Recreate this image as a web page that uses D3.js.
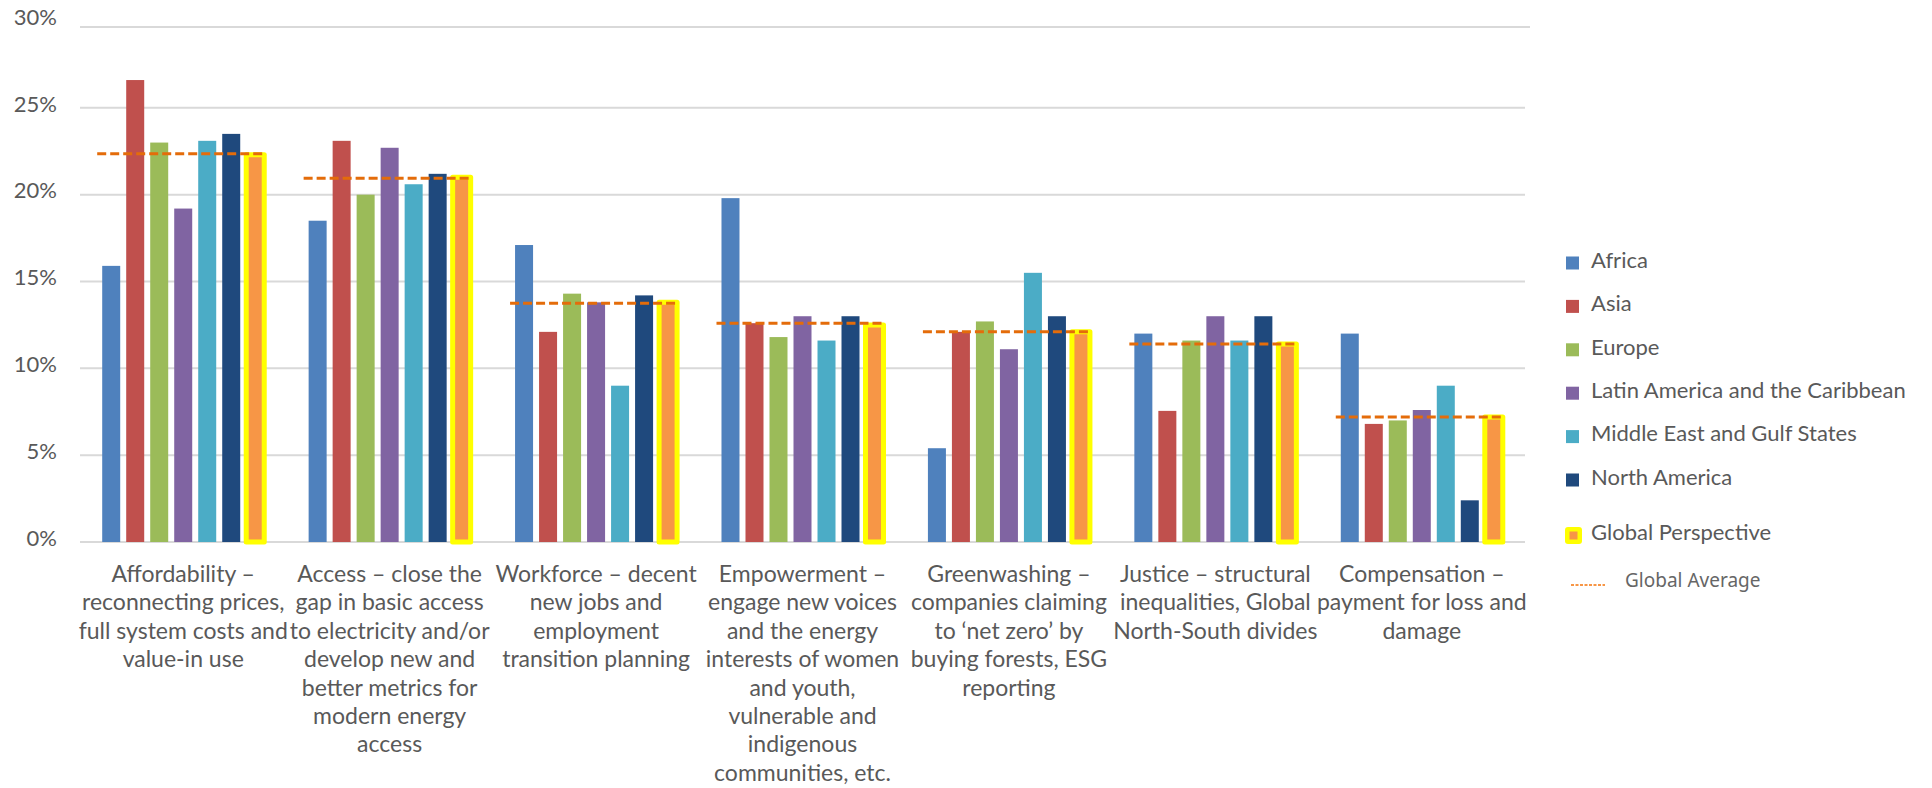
<!DOCTYPE html>
<html>
<head>
<meta charset="utf-8">
<script src="https://cdn.jsdelivr.net/npm/d3@7"></script>
<style>
  html, body { margin: 0; padding: 0; background: #ffffff; }
  svg { display: block; }
</style>
</head>
<body>
<svg id="chart" width="1932" height="788"></svg>
<script>
// ---------- DATA ----------
const categories = ["Affordability", "Access", "Workforce", "Empowerment", "Greenwashing", "Justice", "Compensation"];
const categoryLabels = [
  ["Affordability –", "reconnecting prices,", "full system costs and", "value-in use"],
  ["Access – close the", "gap in basic access", "to electricity and/or", "develop new and", "better metrics for", "modern energy", "access"],
  ["Workforce – decent", "new jobs and", "employment", "transition planning"],
  ["Empowerment –", "engage new voices", "and the energy", "interests of women", "and youth,", "vulnerable and", "indigenous", "communities, etc."],
  ["Greenwashing –", "companies claiming", "to ‘net zero’ by", "buying forests, ESG", "reporting"],
  ["Justice – structural", "inequalities, Global", "North-South divides"],
  ["Compensation –", "payment for loss and", "damage"]
];
const seriesNames = ["Africa", "Asia", "Europe", "Latin America and the Caribbean", "Middle  East and Gulf States", "North America", "Global Perspective"];
const africa      = [15.9, 18.5, 17.1, 19.8, 5.4, 12.0, 12.0];
const asia        = [26.6, 23.1, 12.1, 12.6, 12.1, 7.55, 6.8];
const europe      = [23.0, 20.0, 14.3, 11.8, 12.7, 11.6, 7.0];
const latinAm     = [19.2, 22.7, 13.8, 13.0, 11.1, 13.0, 7.6];
const middleEast  = [23.1, 20.6, 9.0, 11.6, 15.5, 11.6, 9.0];
const northAm     = [23.5, 21.2, 14.2, 13.0, 13.0, 13.0, 2.4];
const globalPersp = [22.3, 21.0, 13.8, 12.5, 12.1, 11.4, 7.2];
const globalAvg   = [22.35, 20.95, 13.75, 12.6, 12.1, 11.4, 7.2];
const yTicks = [0, 5, 10, 15, 20, 25, 30];
const avgLabel = "Global Average";

// ---------- STYLE ----------
const colors = ["#4F81BD", "#C0504D", "#9BBB59", "#8064A2", "#4BACC6", "#1F497D", "#F79646"];
const seriesValues = [africa, asia, europe, latinAm, middleEast, northAm, globalPersp];
const textColor = "#595959";
const font = "Lato, 'Open Sans', sans-serif";

const svg = d3.select("#chart");
const plotLeft = 80, plotRight = 1525, plotBottom = 542, plotTop = 21;

const x0 = d3.scaleBand().domain(categories).range([plotLeft, plotRight]).paddingInner(0).paddingOuter(0);
const x1 = d3.scaleBand().domain(seriesNames).range([0, x0.bandwidth()]).paddingInner(0.25).paddingOuter(0.925);
const y = d3.scaleLinear().domain([0, 30]).range([plotBottom, plotTop]);

// gridlines
svg.append("g").selectAll("line").data(yTicks).join("line")
  .attr("x1", plotLeft)
  .attr("x2", d => d === 30 ? plotRight + 5 : plotRight)
  .attr("y1", d => d === 30 ? y(d) + 6 : y(d))
  .attr("y2", d => d === 30 ? y(d) + 6 : y(d))
  .attr("stroke", "#D9D9D9").attr("stroke-width", 2);

// y axis labels
const yAxis = d3.axisLeft(y).tickValues(yTicks).tickFormat(d => d + "%").tickSize(0).tickPadding(0);
const yg = svg.append("g").attr("transform", "translate(57,0)").call(yAxis);
yg.select(".domain").remove();
yg.selectAll("text")
  .attr("dy", "0.15em")
  .style("font-family", font).style("font-size", "22px").attr("fill", textColor);

// bars
const rows = categories.map((c, ci) => ({ cat: c, vals: seriesNames.map((s, si) => ({ s, si, v: seriesValues[si][ci] })) }));
const groups = svg.append("g").selectAll("g").data(rows).join("g")
  .attr("transform", d => `translate(${x0(d.cat)},0)`);

groups.selectAll("rect").data(d => d.vals).join("rect")
  .attr("x", d => x1(d.s))
  .attr("width", x1.bandwidth())
  .attr("y", d => y(d.v))
  .attr("height", d => y(0) - y(d.v))
  .attr("fill", d => colors[d.si])
  .attr("stroke", d => d.si === 6 ? "#FFFF00" : "none")
  .attr("stroke-width", d => d.si === 6 ? 5 : 0)
  .attr("stroke-linejoin", "round");

// global average dashed lines
svg.append("g").selectAll("line").data(categories).join("line")
  .attr("x1", (c) => x0(c) + x1(seriesNames[0]) - 5)
  .attr("x2", (c) => x0(c) + x1(seriesNames[6]) + x1.bandwidth() + 2)
  .attr("y1", (c, i) => y(globalAvg[i]))
  .attr("y2", (c, i) => y(globalAvg[i]))
  .attr("stroke", "#E46C0A").attr("stroke-width", 3)
  .attr("stroke-dasharray", "9,4");

// category labels
const lab = svg.append("g").selectAll("text").data(categories).join("text")
  .attr("x", c => x0(c) + x0.bandwidth() / 2)
  .attr("y", 574)
  .attr("text-anchor", "middle")
  .style("font-family", font).style("font-size", "23px").attr("fill", textColor);
lab.selectAll("tspan").data((c, i) => categoryLabels[i]).join("tspan")
  .attr("x", function () { return d3.select(this.parentNode).attr("x"); })
  .attr("dy", (d, i) => i === 0 ? "0.35em" : "28.4px")
  .text(d => d);

// legend
const legY = i => i < 6 ? 260 + i * 43.4 : 532;
const leg = svg.append("g").selectAll("g").data(seriesNames).join("g")
  .attr("transform", (d, i) => `translate(1566,${legY(i)})`);
leg.filter((d, i) => i < 6).append("rect")
  .attr("x", 0).attr("y", -3.5).attr("width", 13).attr("height", 13)
  .attr("fill", (d, i) => colors[i]);
leg.filter((d, i) => i === 6).append("rect")
  .attr("x", -1).attr("y", -5).attr("width", 17).attr("height", 17).attr("rx", 3)
  .attr("fill", "#FFFF00");
leg.filter((d, i) => i === 6).append("rect")
  .attr("x", 3.5).attr("y", -0.5).attr("width", 8).attr("height", 8)
  .attr("fill", colors[6]);
leg.append("text")
  .attr("x", 25).attr("y", 0).attr("dy", "0.35em")
  .style("font-family", font).style("font-size", "22px").attr("fill", textColor)
  .text(d => d);

// Global average legend
const ga = svg.append("g").attr("transform", "translate(1571,581)");
ga.append("line").attr("x1", 0).attr("x2", 34).attr("y1", 4).attr("y2", 4)
  .attr("stroke", "#F79646").attr("stroke-width", 2).attr("stroke-dasharray", "3,1.5");
ga.append("text").attr("x", 54).attr("y", 0).attr("dy", "0.3em")
  .style("font-family", "'Noto Sans', 'DejaVu Sans', sans-serif").style("font-size", "19px")
  .attr("fill", "#666666").text(avgLabel);
</script>
</body>
</html>
